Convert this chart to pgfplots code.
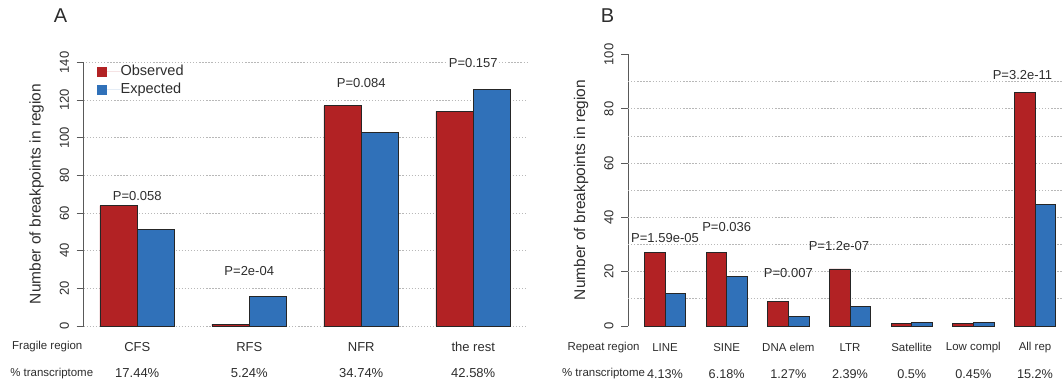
\documentclass[border=0pt]{standalone}
\usepackage{fontspec}
\setmainfont{Liberation Sans}
\usepackage{pgfplots}
\pgfplotsset{compat=1.18}
\definecolor{obsred}{RGB}{178,34,36}
\definecolor{expblue}{RGB}{48,113,185}
\definecolor{txt}{RGB}{45,45,45}
\tikzset{plab/.style={font=\fontsize{9.75}{10}\selectfont, text=txt},
  ca/.style={font=\fontsize{9.75}{10}\selectfont, text=txt},
  cb/.style={font=\fontsize{8.6}{10}\selectfont, text=txt},
  pb/.style={font=\fontsize{9.5}{10}\selectfont, text=txt},
  rl/.style={font=\fontsize{8.6}{10}\selectfont, text=txt}}
\pgfplotsset{
  layers/gridtop/.define layer set={axis background,main,axis grid,axis ticks,axis lines,axis tick labels,axis descriptions,axis foreground}{},
  rstyle/.style={
    scale only axis, anchor=south west,
    set layers=gridtop,
    axis x line=none, axis y line*=left,
    ymin=0,
    axis line style={black!65, line width=0.6pt},
    ytick style={black!65, line width=0.6pt},
    tick align=outside, major tick length=5.25pt,
    yticklabel style={rotate=90, anchor=south, font=\fontsize{9.75}{10}\selectfont, text=txt, inner sep=5.5pt},
    /pgf/number format/assume math mode=true,
    ybar, bar width=1,
    legend image code/.code={\fill[##1,draw=none] (0pt,-3.75pt) rectangle (7.5pt,3.75pt); \path[draw=none] (0pt,0pt) -- (17.5pt,0pt);},
    grid style={black!28, dash pattern=on 1pt off 1.3pt, line width=0.6pt},
    clip=false,
  },
  obs/.style={fill=obsred, draw=black!85, line width=0.5pt, bar shift=0pt},
  exs/.style={fill=expblue, draw=black!85, line width=0.5pt, bar shift=0pt},
  gl/.style={sharp plot, no marks, black!28, dash pattern=on 1pt off 1.3pt, line width=0.6pt, forget plot},
}
\begin{document}
\begin{tikzpicture}
% panel letters and y labels
\node[font=\fontsize{15}{16}\selectfont, text=txt] at (45.4pt,277.9pt) {A};
\node[font=\fontsize{15}{16}\selectfont, text=txt] at (455.6pt,277.9pt) {B};
\node[rotate=90, font=\fontsize{11.6}{12}\selectfont, text=txt] at (27.45pt,144pt) {Number of breakpoints in region};
\node[rotate=90, font=\fontsize{11.6}{12}\selectfont, text=txt] at (435.75pt,147pt) {Number of breakpoints in region};

% ---------------- Panel A ----------------
\begin{axis}[rstyle,
  at={(62.625pt,45pt)}, width=332.625pt, height=197.625pt,
  xmin=0.56, xmax=12.44, ymax=140,
  ytick={0,20,...,140},
  extra y ticks={0,20,...,120}, extra y tick labels={},
  extra y tick style={ymajorgrids=true, major tick length=0pt},
  legend style={at={(rel axis cs:0.0304,0.992)}, anchor=north west, draw=none, fill=none,
    inner sep=0pt, row sep=2.9pt, font=\fontsize{10.9}{12}\selectfont,
    nodes={inner sep=0pt, text height=8pt, text depth=2.5pt, text=txt}},
  legend cell align=left,
]
\addplot[obs] coordinates {(1.5,64) (4.5,1) (7.5,117) (10.5,114)};
\addplot[exs] coordinates {(2.5,51.3) (5.5,15.6) (8.5,102.7) (11.5,125.7)};
\legend{Observed, Expected}
\addplot[gl] coordinates {(0.62,140) (10.27,140)};
\addplot[gl] coordinates {(11.69,140) (12.44,140)};
\node[plab] at (axis cs:2,69) {P=0.058};
\node[plab] at (axis cs:5,29.4) {P=2e-04};
\node[plab] at (axis cs:8,129.2) {P=0.084};
\node[plab] at (axis cs:11,139.5) {P=0.157};
\node[ca] at ([yshift=-15.5pt]axis cs:2,0) {CFS};
\node[ca] at ([yshift=-15.5pt]axis cs:5,0) {RFS};
\node[ca] at ([yshift=-15.5pt]axis cs:8,0) {NFR};
\node[ca] at ([yshift=-15.5pt]axis cs:11,0) {the rest};
\node[ca] at ([yshift=-35.5pt]axis cs:2,0) {17.44\%};
\node[ca] at ([yshift=-35.5pt]axis cs:5,0) {5.24\%};
\node[ca] at ([yshift=-35.5pt]axis cs:8,0) {34.74\%};
\node[ca] at ([yshift=-35.5pt]axis cs:11,0) {42.58\%};
\node[rl] at ([yshift=-15.5pt]axis cs:-0.41,0) {Fragile region};
\node[rl] at ([yshift=-35.5pt]axis cs:-0.29,0) {\% transcriptome};
\end{axis}

% ---------------- Panel B ----------------
\begin{axis}[rstyle,
  at={(471pt,45pt)}, width=326.25pt, height=203.625pt,
  xmin=0.2, xmax=21.36, ymax=100,
  ytick={0,20,...,100},
  extra y ticks={10,20,...,90}, extra y tick labels={},
  extra y tick style={ymajorgrids=true, major tick length=0pt},
]
\addplot[obs] coordinates {(1.5,27) (4.5,27) (7.5,9) (10.5,21) (13.5,1) (16.5,1) (19.5,86)};
\addplot[exs] coordinates {(2.5,12.1) (5.5,18.2) (8.5,3.6) (11.5,7.1) (14.5,1.3) (17.5,1.3) (20.5,44.7)};
\node[plab] at (axis cs:2,32.4) {P=1.59e-05};
\node[plab] at (axis cs:5,36.4) {P=0.036};
\node[plab] at (axis cs:8,19.6) {P=0.007};
\node[plab] at (axis cs:10.46,29.4) {P=1.2e-07};
\node[plab] at (axis cs:19.39,92.4) {P=3.2e-11};
\node[cb] at ([yshift=-16.3pt]axis cs:2,0) {LINE};
\node[cb] at ([yshift=-16.3pt]axis cs:5,0) {SINE};
\node[cb] at ([yshift=-16.3pt]axis cs:8,0) {DNA elem};
\node[cb] at ([yshift=-16.3pt]axis cs:11,0) {LTR};
\node[cb] at ([yshift=-16.3pt]axis cs:14,0) {Satellite};
\node[cb] at ([yshift=-16.3pt]axis cs:17,0) {Low compl};
\node[cb] at ([yshift=-16.3pt]axis cs:20,0) {All rep};
\node[pb] at ([yshift=-36pt]axis cs:2,0) {4.13\%};
\node[pb] at ([yshift=-36pt]axis cs:5,0) {6.18\%};
\node[pb] at ([yshift=-36pt]axis cs:8,0) {1.27\%};
\node[pb] at ([yshift=-36pt]axis cs:11,0) {2.39\%};
\node[pb] at ([yshift=-36pt]axis cs:14,0) {0.5\%};
\node[pb] at ([yshift=-36pt]axis cs:17,0) {0.45\%};
\node[pb] at ([yshift=-36pt]axis cs:20,0) {15.2\%};
\node[rl] at ([yshift=-16.3pt]axis cs:-0.99,0) {Repeat region};
\node[rl] at ([yshift=-36pt]axis cs:-0.99,0) {\% transcriptome};
\end{axis}
\pgfresetboundingbox
\useasboundingbox (0pt,0pt) rectangle (797.25pt,289.5pt);
\end{tikzpicture}
\end{document}
